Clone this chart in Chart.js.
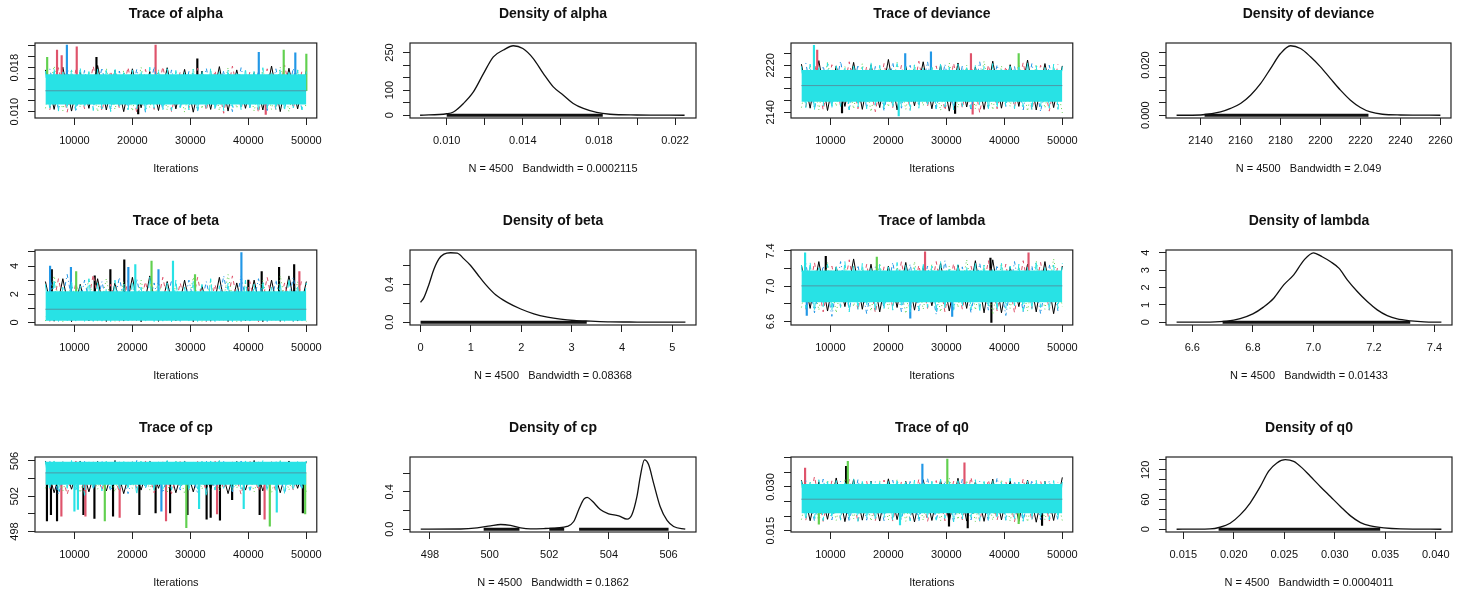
<!DOCTYPE html>
<html>
<head>
<meta charset="utf-8">
<script src="https://cdn.jsdelivr.net/npm/chart.js@4.4.1/dist/chart.umd.min.js"></script>
<style>
  html, body { margin: 0; padding: 0; background: #fff; }
  body { width: 1468px; height: 595px; position: relative; overflow: hidden; }
  canvas { position: absolute; }
</style>
</head>
<body>
<script>
// MCMC diagnostics: trace + density for alpha, deviance, beta, lambda, cp, q0

// iterations (offset grids so the chains don't all turn at the same x)
const ITER_A = [5000, 6500, 8000, 9500, 11000, 12500, 14000, 15500, 17000, 18500, 20000, 21500, 23000, 24500, 26000, 27500, 29000, 30500, 32000, 33500, 35000, 36500, 38000, 39500, 41000, 42500, 44000, 45500, 47000, 48500, 50000];
const ITER_B = [5750, 7250, 8750, 10250, 11750, 13250, 14750, 16250, 17750, 19250, 20750, 22250, 23750, 25250, 26750, 28250, 29750, 31250, 32750, 34250, 35750, 37250, 38750, 40250, 41750, 43250, 44750, 46250, 47750, 49250];
const ITER_C = [5000, 5750, 6500, 7250, 8000, 8750, 9500, 10250, 11000, 11750, 12500, 13250, 14000, 14750, 15500, 16250, 17000, 17750, 18500, 19250, 20000, 20750, 21500, 22250, 23000, 23750, 24500, 25250, 26000, 26750, 27500, 28250, 29000, 29750, 30500, 31250, 32000, 32750, 33500, 34250, 35000, 35750, 36500, 37250, 38000, 38750, 39500, 40250, 41000, 41750, 42500, 43250, 44000, 44750, 45500, 46250, 47000, 47750, 48500, 49250, 50000];
const ITER_TICKS = [10000, 20000, 30000, 40000, 50000];
const ITER_LABELS = ['10000', '20000', '30000', '40000', '50000'];

// ---- alpha ----
const alphaBlack = [0.0176, 0.0104, 0.0181, 0.0101, 0.0172, 0.0106, 0.0184, 0.0103, 0.0175, 0.0100, 0.0178, 0.0107, 0.0173, 0.0102, 0.0180, 0.0105, 0.0177, 0.0099, 0.0174, 0.0104, 0.0182, 0.0101, 0.0176, 0.0106, 0.0171, 0.0103, 0.0183, 0.0100, 0.0179, 0.0105, 0.0175];
const alphaRed = [0.0103, 0.0180, 0.0099, 0.0176, 0.0105, 0.0183, 0.0101, 0.0174, 0.0106, 0.0181, 0.0098, 0.0177, 0.0104, 0.0182, 0.0100, 0.0173, 0.0107, 0.0179, 0.0102, 0.0175, 0.0097, 0.0183, 0.0105, 0.0172, 0.0098, 0.0178, 0.0103, 0.0185, 0.0106, 0.0174];
const alphaGreen = [0.0106, 0.0183, 0.0102, 0.0177, 0.0108, 0.0173, 0.0100, 0.0179, 0.0104, 0.0175, 0.0101, 0.0181, 0.0107, 0.0176, 0.0103, 0.0172, 0.0099, 0.0178, 0.0105, 0.0174, 0.0102, 0.0180, 0.0106, 0.0173, 0.0101, 0.0177, 0.0104, 0.0181, 0.0100, 0.0176, 0.0105];
const alphaBlue = [0.0178, 0.0104, 0.0181, 0.0100, 0.0175, 0.0107, 0.0180, 0.0102, 0.0174, 0.0105, 0.0177, 0.0099, 0.0182, 0.0103, 0.0176, 0.0106, 0.0173, 0.0101, 0.0179, 0.0104, 0.0175, 0.0100, 0.0180, 0.0107, 0.0174, 0.0102, 0.0178, 0.0105, 0.0179, 0.0103];
const alphaCyan = [0.0174, 0.0104, 0.0178, 0.0101, 0.0172, 0.0106, 0.0176, 0.0103, 0.0180, 0.0108, 0.0173, 0.0102, 0.0177, 0.0105, 0.0175, 0.0100, 0.0179, 0.0107, 0.0171, 0.0103, 0.0176, 0.0105, 0.0174, 0.0101, 0.0181, 0.0106, 0.0173, 0.0104, 0.0178, 0.0102, 0.0175, 0.0107, 0.0172, 0.0103, 0.0177, 0.0100, 0.0174, 0.0106, 0.0179, 0.0104, 0.0173, 0.0102, 0.0176, 0.0108, 0.0171, 0.0103, 0.0178, 0.0105, 0.0175, 0.0101, 0.0180, 0.0106, 0.0172, 0.0104, 0.0177, 0.0102, 0.0174, 0.0107, 0.0176, 0.0103, 0.0173];
const alphaSpikeIter = [5300, 7000, 7800, 8700, 10400, 13800, 21000, 24000, 31200, 41800, 43000, 46100, 48100, 50000];
const alphaSpikeVal = [0.0199, 0.0212, 0.0202, 0.0221, 0.0218, 0.0199, 0.0096, 0.0221, 0.0196, 0.0208, 0.0095, 0.0212, 0.0207, 0.0205];
const alphaSpikeChain = [2, 1, 1, 3, 1, 0, 0, 1, 0, 3, 1, 2, 3, 2];
const alphaBand = [0.0113, 0.0168];
const alphaMean = 0.0138;
const alphaTraceTicks = [0.010, 0.012, 0.014, 0.016, 0.018, 0.020, 0.022];
const alphaTraceLabels = ['0.010', '', '', '', '0.018', '', ''];
const alphaDensX = [0.0086, 0.0100, 0.01035, 0.01088, 0.0114, 0.01193, 0.01245, 0.01298, 0.0135, 0.0140, 0.01455, 0.01508, 0.0156, 0.01613, 0.01665, 0.01718, 0.01788, 0.01858, 0.01998, 0.0225];
const alphaDensY = [0, 6, 13, 47, 93, 166, 233, 260, 277, 266, 226, 166, 113, 80, 47, 27, 11, 4, 1, 0];
const alphaRug = [[0.0100, 0.0182]];
const alphaDensTicksX = [0.010, 0.012, 0.014, 0.016, 0.018, 0.020, 0.022];
const alphaDensLabelsX = ['0.010', '', '0.014', '', '0.018', '', '0.022'];
const alphaDensTicksY = [0, 50, 100, 150, 200, 250];
const alphaDensLabelsY = ['0', '', '100', '', '', '250'];

// ---- deviance ----
const devBlack = [2222, 2147, 2228, 2143, 2219, 2150, 2225, 2145, 2221, 2148, 2230, 2144, 2218, 2151, 2226, 2146, 2220, 2142, 2224, 2149, 2217, 2145, 2227, 2147, 2221, 2150, 2229, 2144, 2223, 2148, 2219];
const devRed = [2149, 2224, 2144, 2221, 2151, 2226, 2146, 2218, 2141, 2223, 2148, 2220, 2145, 2227, 2150, 2219, 2143, 2224, 2147, 2223, 2139, 2221, 2146, 2218, 2149, 2225, 2144, 2220, 2142, 2222];
const devGreen = [2148, 2220, 2144, 2226, 2150, 2218, 2146, 2223, 2141, 2219, 2149, 2225, 2145, 2221, 2151, 2217, 2143, 2224, 2148, 2220, 2146, 2227, 2144, 2219, 2150, 2224, 2142, 2222, 2147, 2218, 2139];
const devBlue = [2224, 2146, 2219, 2150, 2227, 2144, 2221, 2148, 2218, 2142, 2225, 2147, 2220, 2151, 2226, 2145, 2222, 2149, 2219, 2143, 2226, 2146, 2221, 2150, 2218, 2144, 2223, 2141, 2220, 2147];
const devCyan = [2218, 2148, 2222, 2145, 2216, 2151, 2224, 2147, 2219, 2150, 2215, 2144, 2221, 2149, 2217, 2146, 2225, 2152, 2220, 2145, 2216, 2148, 2223, 2150, 2218, 2143, 2221, 2147, 2215, 2151, 2219, 2146, 2224, 2149, 2217, 2144, 2222, 2150, 2216, 2147, 2220, 2152, 2218, 2145, 2223, 2148, 2215, 2151, 2221, 2146, 2217, 2149, 2225, 2144, 2219, 2150, 2216, 2147, 2222, 2145, 2218];
const devSpikeIter = [7160, 7720, 22900, 27340, 34240, 42470, 21780, 34530, 31500, 12000];
const devSpikeVal = [2254, 2246, 2240, 2243, 2240, 2240, 2134, 2137, 2138, 2139];
const devSpikeChain = [4, 1, 3, 3, 1, 2, 4, 1, 0, 0];
const devBand = [2158, 2212];
const devMean = 2185.5;
const devTraceTicks = [2140, 2160, 2180, 2200, 2220, 2240];
const devTraceLabels = ['2140', '', '', '', '2220', ''];
const devDensX = [2128, 2140, 2150, 2155, 2160, 2165, 2170, 2175, 2180, 2185, 2190, 2195, 2200, 2205, 2210, 2215, 2220, 2225, 2231, 2240, 2260];
const devDensY = [0, 0.0001, 0.0013, 0.0027, 0.0047, 0.0080, 0.0126, 0.0186, 0.0246, 0.0277, 0.0266, 0.0233, 0.0193, 0.0146, 0.0100, 0.0060, 0.0031, 0.0013, 0.0004, 0.0001, 0];
const devRug = [[2142, 2224]];
const devDensTicksX = [2140, 2160, 2180, 2200, 2220, 2240, 2260];
const devDensLabelsX = ['2140', '2160', '2180', '2200', '2220', '2240', '2260'];
const devDensTicksY = [0, 0.005, 0.010, 0.015, 0.020, 0.025];
const devDensLabelsY = ['0.000', '', '', '', '0.020', ''];

// ---- beta ----
const betaBlack = [2.9, 0.08, 3.1, 0.05, 2.7, 0.10, 3.1, 0.06, 2.8, 0.09, 3.2, 0.04, 3.3, 0.07, 2.9, 0.11, 3.0, 0.05, 2.6, 0.08, 3.2, 0.06, 2.8, 0.10, 3.0, 0.05, 3.0, 0.07, 3.3, 0.09, 2.9];
const betaRed = [0.06, 3.1, 0.09, 2.8, 0.05, 3.4, 0.11, 2.7, 0.07, 3.0, 0.04, 2.9, 0.10, 3.2, 0.06, 2.8, 0.08, 3.2, 0.05, 2.7, 0.09, 3.3, 0.07, 2.9, 0.04, 3.2, 0.10, 2.8, 0.06, 3.1];
const betaGreen = [0.09, 3.3, 0.06, 2.8, 0.11, 3.1, 0.05, 3.1, 0.08, 2.9, 0.07, 3.0, 0.10, 3.0, 0.04, 2.7, 0.09, 3.2, 0.06, 2.9, 0.11, 3.4, 0.05, 2.8, 0.08, 3.0, 0.07, 3.3, 0.10, 2.9, 0.06];
const betaBlue = [3.2, 0.07, 3.4, 0.05, 3.0, 0.10, 2.9, 0.06, 3.2, 0.08, 3.1, 0.04, 2.8, 0.09, 3.0, 0.06, 3.0, 0.11, 2.9, 0.05, 3.3, 0.07, 3.3, 0.09, 3.1, 0.06, 3.0, 0.10, 3.2, 0.05];
const betaCyan = [2.7, 0.06, 3.0, 0.08, 2.5, 0.05, 2.9, 0.09, 2.6, 0.07, 3.1, 0.04, 2.8, 0.08, 2.4, 0.06, 3.0, 0.10, 2.7, 0.05, 2.9, 0.07, 2.5, 0.09, 3.2, 0.06, 2.6, 0.08, 2.8, 0.04, 3.0, 0.07, 2.5, 0.09, 2.9, 0.05, 2.7, 0.08, 3.1, 0.06, 2.6, 0.10, 2.8, 0.05, 2.4, 0.07, 3.0, 0.09, 2.7, 0.06, 2.9, 0.08, 2.5, 0.04, 2.8, 0.07, 3.1, 0.06, 2.6, 0.09, 2.8];
const betaSpikeIter = [5800, 6100, 9400, 10300, 13500, 16200, 18600, 19300, 20500, 23300, 24500, 27000, 30800, 38800, 40000, 42300, 45300, 47900, 48800];
const betaSpikeVal = [4.0, 3.75, 3.9, 3.6, 3.3, 3.75, 4.45, 3.9, 4.1, 4.35, 3.75, 4.35, 3.4, 4.95, 3.0, 3.6, 3.9, 4.1, 3.6];
const betaSpikeChain = [3, 0, 3, 2, 0, 0, 0, 3, 4, 2, 3, 4, 2, 3, 0, 0, 0, 0, 1];
const betaBand = [0.12, 2.2];
const betaMean = 0.93;
const betaTraceTicks = [0, 1, 2, 3, 4, 5];
const betaTraceLabels = ['0', '', '2', '', '4', ''];
const betaDensX = [0, 0.066, 0.166, 0.265, 0.364, 0.464, 0.596, 0.728, 0.861, 0.993, 1.126, 1.29, 1.49, 1.72, 1.99, 2.25, 2.52, 2.78, 3.05, 3.38, 3.77, 4.30, 5.26];
const betaDensY = [0.21, 0.26, 0.40, 0.56, 0.67, 0.72, 0.735, 0.73, 0.67, 0.60, 0.51, 0.40, 0.29, 0.21, 0.14, 0.089, 0.054, 0.032, 0.018, 0.011, 0.004, 0.002, 0];
const betaRug = [[0.0, 3.3]];
const betaDensTicksX = [0, 1, 2, 3, 4, 5];
const betaDensLabelsX = ['0', '1', '2', '3', '4', '5'];
const betaDensTicksY = [0, 0.2, 0.4, 0.6];
const betaDensLabelsY = ['0.0', '', '0.4', ''];

// ---- lambda ----
const lamBlack = [7.24, 6.75, 7.28, 6.72, 7.22, 6.77, 7.31, 6.74, 7.25, 6.71, 7.23, 6.76, 7.27, 6.73, 7.21, 6.78, 7.26, 6.72, 7.24, 6.75, 7.29, 6.70, 7.30, 6.70, 7.22, 6.77, 7.25, 6.71, 7.28, 6.69, 7.23];
const lamRed = [6.74, 7.27, 6.71, 7.23, 6.77, 7.30, 6.73, 7.25, 6.70, 7.22, 6.76, 7.28, 6.72, 7.24, 6.75, 7.28, 6.71, 7.26, 6.74, 7.23, 6.77, 7.29, 6.72, 7.25, 6.70, 7.29, 6.75, 7.27, 6.73, 7.24];
const lamGreen = [6.76, 7.23, 6.73, 7.27, 6.70, 7.24, 6.77, 7.21, 6.72, 7.26, 6.75, 7.22, 6.69, 7.28, 6.74, 7.25, 6.71, 7.23, 6.76, 7.30, 6.73, 7.24, 6.68, 7.26, 6.75, 7.22, 6.72, 7.29, 6.74, 7.31, 6.77];
const lamBlue = [7.26, 6.70, 7.23, 6.66, 7.28, 6.73, 7.24, 6.69, 7.22, 6.75, 7.27, 6.71, 7.25, 6.72, 7.23, 6.68, 7.29, 6.74, 7.22, 6.70, 7.26, 6.73, 7.24, 6.67, 7.28, 6.71, 7.23, 6.69, 7.25, 6.72];
const lamCyan = [7.24, 6.75, 7.27, 6.72, 7.21, 6.77, 7.25, 6.73, 7.22, 6.76, 7.28, 6.71, 7.23, 6.74, 7.26, 6.78, 7.20, 6.72, 7.25, 6.75, 7.22, 6.73, 7.27, 6.77, 7.24, 6.71, 7.21, 6.74, 7.26, 6.76, 7.23, 6.72, 7.28, 6.75, 7.21, 6.73, 7.25, 6.77, 7.22, 6.74, 7.27, 6.71, 7.24, 6.76, 7.20, 6.73, 7.26, 6.75, 7.23, 6.78, 7.25, 6.72, 7.22, 6.74, 7.28, 6.76, 7.21, 6.73, 7.24, 6.75, 7.26];
const lamSpikeIter = [5630, 9200, 26320, 44170, 37600, 37760, 23770, 5920, 18000, 31000];
const lamSpikeVal = [7.38, 7.34, 7.39, 7.38, 7.32, 6.59, 6.64, 6.67, 7.33, 6.66];
const lamSpikeChain = [4, 0, 1, 1, 0, 0, 3, 3, 2, 3];
const lamBand = [6.82, 7.18];
const lamMean = 7.005;
const lamTraceTicks = [6.6, 6.8, 7.0, 7.2, 7.4];
const lamTraceLabels = ['6.6', '', '7.0', '', '7.4'];
const lamDensX = [6.548, 6.659, 6.714, 6.758, 6.800, 6.835, 6.869, 6.902, 6.935, 6.969, 7.000, 7.029, 7.057, 7.085, 7.112, 7.145, 7.178, 7.211, 7.244, 7.277, 7.322, 7.366, 7.423];
const lamDensY = [0, 0.01, 0.06, 0.21, 0.48, 0.87, 1.38, 2.15, 2.73, 3.58, 4.0, 3.77, 3.48, 3.10, 2.44, 1.77, 1.19, 0.71, 0.38, 0.19, 0.08, 0.02, 0];
const lamRug = [[6.70, 7.32]];
const lamDensTicksX = [6.6, 6.8, 7.0, 7.2, 7.4];
const lamDensLabelsX = ['6.6', '6.8', '7.0', '7.2', '7.4'];
const lamDensTicksY = [0, 1, 2, 3, 4];
const lamDensLabelsY = ['0', '1', '2', '3', '4'];

// ---- cp ----
const cpBlack = [506.0, 502.4, 505.9, 502.8, 506.0, 502.5, 505.95, 502.6, 506.05, 502.3, 505.9, 502.7, 506.0, 502.9, 505.95, 502.4, 506.0, 502.5, 505.9, 502.8, 506.0, 502.3, 505.95, 502.7, 506.05, 502.6, 505.9, 502.4, 506.0, 502.9, 505.95];
const cpRed = [502.8, 505.95, 502.2, 506.0, 502.5, 505.9, 502.7, 506.05, 502.4, 505.95, 502.9, 506.0, 502.4, 505.9, 502.3, 506.0, 502.7, 505.95, 502.5, 506.0, 502.8, 505.9, 502.2, 506.05, 502.6, 505.95, 502.5, 506.0, 502.7, 505.9];
const cpGreen = [502.9, 506.0, 502.6, 505.9, 502.4, 505.95, 502.8, 506.0, 502.5, 505.9, 502.9, 506.05, 502.7, 505.95, 502.4, 506.0, 502.3, 505.9, 502.8, 506.0, 502.6, 505.95, 502.9, 506.0, 502.5, 505.9, 502.4, 506.05, 502.7, 505.95, 502.5];
const cpBlue = [506.0, 502.2, 505.9, 502.7, 505.95, 502.8, 506.0, 502.6, 505.9, 502.3, 506.05, 502.9, 505.95, 502.4, 506.0, 502.7, 505.9, 502.3, 506.0, 502.8, 505.95, 502.5, 506.0, 502.6, 505.9, 502.9, 506.05, 502.4, 505.95, 502.7];
const cpCyan = [505.95, 502.8, 506.0, 502.6, 505.9, 502.9, 506.05, 502.7, 505.95, 502.1, 506.0, 502.8, 505.9, 502.6, 505.95, 502.9, 506.0, 502.7, 506.05, 502.8, 505.9, 502.2, 505.95, 502.9, 506.0, 502.6, 505.9, 502.8, 506.05, 502.7, 505.95, 502.9, 506.0, 502.6, 505.9, 502.8, 505.95, 502.0, 506.0, 502.7, 506.05, 502.9, 505.9, 502.6, 505.95, 502.8, 506.0, 502.7, 505.9, 502.9, 506.05, 502.6, 505.95, 502.8, 506.0, 502.3, 505.9, 502.7, 505.95, 502.9, 506.0];
const cpSpikeIter = [5260, 5950, 7000, 7750, 10000, 10600, 11550, 11900, 13450, 15240, 16660, 17800, 21200, 24000, 25000, 25800, 26500, 29300, 29500, 31500, 32800, 33500, 34600, 35100, 37200, 39200, 41950, 42800, 43700, 44900, 49400, 49800];
const cpSpikeVal = [499.2, 499.9, 499.2, 499.75, 500.3, 500.5, 499.9, 499.75, 499.5, 499.2, 499.75, 499.6, 499.9, 500.1, 500.3, 499.2, 500.1, 498.45, 499.9, 500.6, 499.4, 499.6, 500.0, 499.3, 501.6, 500.6, 499.9, 499.4, 498.6, 500.2, 500.1, 500.0];
const cpSpikeChain = [0, 0, 0, 1, 4, 4, 0, 1, 0, 2, 0, 1, 0, 0, 3, 1, 0, 2, 0, 4, 0, 0, 1, 0, 0, 4, 0, 1, 2, 4, 0, 2];
const cpBand = [503.3, 505.9];
const cpMean = 504.65;
const cpTraceTicks = [498, 500, 502, 504, 506];
const cpTraceLabels = ['498', '', '502', '', '506'];
const cpDensX = [497.69, 499.03, 499.58, 500.03, 500.37, 500.70, 501.04, 501.37, 501.82, 502.26, 502.60, 502.82, 502.99, 503.16, 503.27, 503.44, 503.71, 503.99, 504.33, 504.61, 504.77, 504.94, 505.05, 505.19, 505.33, 505.50, 505.72, 505.95, 506.17, 506.56];
const cpDensY = [0, 0.002, 0.014, 0.036, 0.05, 0.04, 0.014, 0.004, 0.007, 0.014, 0.029, 0.082, 0.21, 0.32, 0.34, 0.30, 0.21, 0.164, 0.143, 0.107, 0.154, 0.35, 0.56, 0.74, 0.69, 0.49, 0.24, 0.093, 0.029, 0];
const cpRug = [[499.8, 501.0], [502.0, 502.5], [503.0, 506.0]];
const cpDensTicksX = [498, 500, 502, 504, 506];
const cpDensLabelsX = ['498', '500', '502', '504', '506'];
const cpDensTicksY = [0, 0.2, 0.4, 0.6];
const cpDensLabelsY = ['0.0', '', '0.4', ''];

// ---- q0 ----
const q0Black = [0.0323, 0.0184, 0.0318, 0.0189, 0.0331, 0.0181, 0.0326, 0.0186, 0.0320, 0.0183, 0.0328, 0.0188, 0.0319, 0.0180, 0.0325, 0.0185, 0.0322, 0.0180, 0.0330, 0.0183, 0.0317, 0.0182, 0.0327, 0.0187, 0.0321, 0.0182, 0.0324, 0.0179, 0.0319, 0.0185, 0.0333];
const q0Red = [0.0186, 0.0336, 0.0182, 0.0321, 0.0189, 0.0326, 0.0180, 0.0319, 0.0185, 0.0324, 0.0183, 0.0318, 0.0188, 0.0327, 0.0181, 0.0322, 0.0184, 0.0320, 0.0187, 0.0334, 0.0182, 0.0325, 0.0186, 0.0319, 0.0181, 0.0328, 0.0185, 0.0321, 0.0183, 0.0317];
const q0Green = [0.0188, 0.0319, 0.0181, 0.0324, 0.0185, 0.0329, 0.0190, 0.0318, 0.0183, 0.0321, 0.0187, 0.0326, 0.0182, 0.0320, 0.0186, 0.0317, 0.0184, 0.0331, 0.0188, 0.0323, 0.0181, 0.0319, 0.0186, 0.0325, 0.0183, 0.0318, 0.0180, 0.0322, 0.0187, 0.0320, 0.0184];
const q0Blue = [0.0322, 0.0183, 0.0327, 0.0187, 0.0320, 0.0181, 0.0325, 0.0186, 0.0318, 0.0184, 0.0323, 0.0189, 0.0319, 0.0182, 0.0330, 0.0185, 0.0321, 0.0180, 0.0326, 0.0187, 0.0320, 0.0183, 0.0331, 0.0186, 0.0319, 0.0182, 0.0324, 0.0188, 0.0321, 0.0184];
const q0Cyan = [0.0320, 0.0188, 0.0316, 0.0192, 0.0325, 0.0184, 0.0318, 0.0195, 0.0322, 0.0186, 0.0315, 0.0190, 0.0328, 0.0182, 0.0319, 0.0193, 0.0323, 0.0187, 0.0316, 0.0196, 0.0321, 0.0185, 0.0326, 0.0191, 0.0317, 0.0183, 0.0324, 0.0189, 0.0314, 0.0194, 0.0320, 0.0186, 0.0327, 0.0192, 0.0318, 0.0181, 0.0322, 0.0190, 0.0315, 0.0195, 0.0325, 0.0184, 0.0319, 0.0188, 0.0323, 0.0193, 0.0316, 0.0186, 0.0330, 0.0191, 0.0317, 0.0183, 0.0321, 0.0189, 0.0324, 0.0194, 0.0318, 0.0187, 0.0322, 0.0192, 0.0319];
const q0SpikeIter = [13000, 30160, 33120, 25860, 5630, 12700, 30450, 33680, 42470, 22000, 46500, 8000];
const q0SpikeVal = [0.0388, 0.0396, 0.0383, 0.0379, 0.0365, 0.0371, 0.0165, 0.0159, 0.0174, 0.0170, 0.0168, 0.0172];
const q0SpikeChain = [2, 2, 1, 3, 1, 0, 0, 0, 2, 4, 0, 2];
const q0Band = [0.0210, 0.0310];
const q0Mean = 0.0258;
const q0TraceTicks = [0.015, 0.020, 0.025, 0.030, 0.035, 0.040];
const q0TraceLabels = ['0.015', '', '', '0.030', '', ''];
const q0DensX = [0.01434, 0.01765, 0.01864, 0.01964, 0.02063, 0.02162, 0.02262, 0.02344, 0.02427, 0.0251, 0.02593, 0.02676, 0.02758, 0.02858, 0.02957, 0.03056, 0.03156, 0.03255, 0.03354, 0.03487, 0.03652, 0.04056];
const q0DensY = [0, 0.7, 4, 12, 29, 53, 86, 117, 134, 140.5, 137, 124, 107, 86, 66, 46, 27, 13.5, 6.8, 2.7, 0.7, 0];
const q0Rug = [[0.0185, 0.0345]];
const q0DensTicksX = [0.015, 0.020, 0.025, 0.030, 0.035, 0.040];
const q0DensLabelsX = ['0.015', '0.020', '0.025', '0.030', '0.035', '0.040'];
const q0DensTicksY = [0, 20, 40, 60, 80, 100, 120, 140];
const q0DensLabelsY = ['0', '', '', '60', '', '', '120', ''];

// ---- layout (page pixels of each plot box) ----
const COLS = [35, 410, 791, 1166];
const ROWS = [43, 250, 457];
const BOX_W = 286, BOX_H = 75;
const AXIS_W = 40, TOP_PAD = 43, BOTTOM_H = 62, RIGHT_PAD = 10;

const CHAIN_COLORS = ['#000000', '#DF536B', '#61D04F', '#2297E6', '#28E2E5'];
const CHAIN_DASH = [[], [4, 4], [1, 3], [1, 3, 4, 3], [7, 3]];
const TEXT = '#111';
const FONT = "'Liberation Sans', Arial, Helvetica, sans-serif";

Chart.defaults.font.family = FONT;
Chart.defaults.color = TEXT;

const pts = (xs, ys) => xs.map((x, i) => ({ x: x, y: ys[i] }));
const rugPts = segs => segs.flatMap(s => [{ x: s[0], y: 0 }, { x: s[1], y: 0 }, { x: s[1], y: null }]);

// box, title and the rotated y labels (R style)
const panelDecor = {
    id: 'panelDecor',
    afterDraw(chart, args, opts) {
        const ctx = chart.ctx;
        const ca = chart.chartArea;
        const ys = chart.scales.y;
        ctx.save();
        ctx.strokeStyle = '#222';
        ctx.lineWidth = 1.2;
        ctx.strokeRect(ca.left, ca.top, ca.right - ca.left, ca.bottom - ca.top);

        ctx.fillStyle = TEXT;
        ctx.textAlign = 'center';
        ctx.textBaseline = 'middle';
        ctx.font = 'bold 14px ' + FONT;
        ctx.fillText(opts.title, (ca.left + ca.right) / 2, ca.top - 29);

        ctx.font = '11px ' + FONT;
        opts.yTicks.forEach((v, i) => {
            const lab = opts.yLabels[i];
            if (!lab) return;
            ctx.save();
            ctx.translate(ca.left - 20, ys.getPixelForValue(v));
            ctx.rotate(-Math.PI / 2);
            ctx.fillText(lab, 0, 0);
            ctx.restore();
        });
        ctx.restore();
    }
};

function xScale(range, ticks, labels, title) {
    return {
        type: 'linear',
        min: range[0],
        max: range[1],
        offset: false,
        afterBuildTicks: s => { s.ticks = ticks.map(v => ({ value: v })); },
        afterFit: s => { s.height = BOTTOM_H; },
        ticks: {
            autoSkip: false, maxRotation: 0, minRotation: 0, padding: 9,
            font: { size: 11 }, color: TEXT,
            callback: (v, i) => labels[i]
        },
        grid: { offset: false, drawOnChartArea: false, drawTicks: true, tickLength: 7, color: '#222', lineWidth: 1 },
        border: { display: false },
        title: { display: true, text: title, font: { size: 11 }, color: TEXT, padding: { top: 4, bottom: 4 } }
    };
}

function yScale(range, ticks) {
    return {
        type: 'linear',
        min: range[0],
        max: range[1],
        afterBuildTicks: s => { s.ticks = ticks.map(v => ({ value: v })); },
        afterFit: s => { s.width = AXIS_W; },
        ticks: { display: false },
        grid: { drawOnChartArea: false, drawTicks: true, tickLength: 7, color: '#222', lineWidth: 1 },
        border: { display: false }
    };
}

function addPanel(col, row, title, datasets, xs, ys, yTicks, yLabels) {
    const c = document.createElement('canvas');
    c.width = AXIS_W + BOX_W + RIGHT_PAD;
    c.height = TOP_PAD + BOX_H + BOTTOM_H;
    c.style.left = (COLS[col] - AXIS_W) + 'px';
    c.style.top = (ROWS[row] - TOP_PAD) + 'px';
    c.style.width = c.width + 'px';
    c.style.height = c.height + 'px';
    document.body.appendChild(c);

    new Chart(c.getContext('2d'), {
        type: 'line',
        data: { datasets: datasets },
        options: {
            responsive: false,
            animation: false,
            events: [],
            layout: { padding: { top: TOP_PAD, right: RIGHT_PAD, left: 0, bottom: 0 } },
            elements: { point: { radius: 0 } },
            plugins: {
                legend: { display: false },
                tooltip: { enabled: false },
                panelDecor: { title: title, yTicks: yTicks, yLabels: yLabels }
            },
            scales: { x: xs, y: ys }
        },
        plugins: [panelDecor]
    });
}

function tracePanel(col, row, name, chains, spikes, band, mean, yRange, yTicks, yLabels) {
    const iters = [ITER_A, ITER_B, ITER_A, ITER_B, ITER_C];
    const chainSet = k => ({
        data: pts(iters[k], chains[k]),
        borderColor: CHAIN_COLORS[k],
        borderWidth: 1,
        borderDash: CHAIN_DASH[k],
        fill: false
    });
    // single excursions drawn as thin vertical strokes from the chain centre
    const spikeSet = k => ({
        type: 'bar',
        data: spikes[0].map((x, i) => spikes[2][i] === k ? { x: x, y: [mean, spikes[1][i]] } : null).filter(Boolean),
        backgroundColor: CHAIN_COLORS[k],
        borderWidth: 0,
        barThickness: 1.5,
        grouped: false
    });
    // first dataset is drawn on top
    const datasets = [
        { data: [{ x: 5000, y: mean }, { x: 50000, y: mean }], borderColor: '#4e98a6', borderWidth: 1, fill: false },
        chainSet(4),
        { data: [{ x: 5000, y: band[1] }, { x: 50000, y: band[1] }], borderWidth: 0, borderColor: CHAIN_COLORS[4],
          backgroundColor: CHAIN_COLORS[4], fill: { value: band[0] } },
        spikeSet(4),
        chainSet(3),
        spikeSet(3),
        chainSet(2),
        spikeSet(2),
        chainSet(1),
        spikeSet(1),
        chainSet(0),
        spikeSet(0)
    ];
    addPanel(col, row, 'Trace of ' + name, datasets,
        xScale([3200, 51800], ITER_TICKS, ITER_LABELS, 'Iterations'),
        yScale(yRange, yTicks), yTicks, yLabels);
}

function densityPanel(col, row, name, dx, dy, rug, bw, xRange, xTicks, xLabels, yRange, yTicks, yLabels) {
    const datasets = [
        { data: pts(dx, dy), borderColor: '#111', borderWidth: 1.3, cubicInterpolationMode: 'monotone', fill: false },
        { data: rugPts(rug), borderColor: '#111', borderWidth: 3, spanGaps: false, fill: false }
    ];
    addPanel(col, row, 'Density of ' + name, datasets,
        xScale(xRange, xTicks, xLabels, 'N = 4500   Bandwidth = ' + bw),
        yScale(yRange, yTicks), yTicks, yLabels);
}

tracePanel(0, 0, 'alpha', [alphaBlack, alphaRed, alphaGreen, alphaBlue, alphaCyan],
    [alphaSpikeIter, alphaSpikeVal, alphaSpikeChain], alphaBand, alphaMean,
    [0.00884, 0.0225], alphaTraceTicks, alphaTraceLabels);
densityPanel(1, 0, 'alpha', alphaDensX, alphaDensY, alphaRug, '0.0002115',
    [0.00807, 0.0231], alphaDensTicksX, alphaDensLabelsX, [-11, 288], alphaDensTicksY, alphaDensLabelsY);
tracePanel(2, 0, 'deviance', [devBlack, devRed, devGreen, devBlue, devCyan],
    [devSpikeIter, devSpikeVal, devSpikeChain], devBand, devMean,
    [2130.3, 2258], devTraceTicks, devTraceLabels);
densityPanel(3, 0, 'deviance', devDensX, devDensY, devRug, '2.049',
    [2122.7, 2265.3], devDensTicksX, devDensLabelsX, [-0.0011, 0.0288], devDensTicksY, devDensLabelsY);

tracePanel(0, 1, 'beta', [betaBlack, betaRed, betaGreen, betaBlue, betaCyan],
    [betaSpikeIter, betaSpikeVal, betaSpikeChain], betaBand, betaMean,
    [-0.19, 5.14], betaTraceTicks, betaTraceLabels);
densityPanel(1, 1, 'beta', betaDensX, betaDensY, betaRug, '0.08368',
    [-0.21, 5.47], betaDensTicksX, betaDensLabelsX, [-0.0294, 0.764], betaDensTicksY, betaDensLabelsY);
tracePanel(2, 1, 'lambda', [lamBlack, lamRed, lamGreen, lamBlue, lamCyan],
    [lamSpikeIter, lamSpikeVal, lamSpikeChain], lamBand, lamMean,
    [6.562, 7.411], lamTraceTicks, lamTraceLabels);
densityPanel(3, 1, 'lambda', lamDensX, lamDensY, lamRug, '0.01433',
    [6.513, 7.458], lamDensTicksX, lamDensLabelsX, [-0.16, 4.16], lamDensTicksY, lamDensLabelsY);

tracePanel(0, 2, 'cp', [cpBlack, cpRed, cpGreen, cpBlue, cpCyan],
    [cpSpikeIter, cpSpikeVal, cpSpikeChain], cpBand, cpMean,
    [497.95, 506.45], cpTraceTicks, cpTraceLabels);
densityPanel(1, 2, 'cp', cpDensX, cpDensY, cpRug, '0.1862',
    [497.33, 506.92], cpDensTicksX, cpDensLabelsX, [-0.03, 0.771], cpDensTicksY, cpDensLabelsY);
tracePanel(2, 2, 'q0', [q0Black, q0Red, q0Green, q0Blue, q0Cyan],
    [q0SpikeIter, q0SpikeVal, q0SpikeChain], q0Band, q0Mean,
    [0.01454, 0.0403], q0TraceTicks, q0TraceLabels);
densityPanel(3, 2, 'q0', q0DensX, q0DensY, q0Rug, '0.0004011',
    [0.01329, 0.04161], q0DensTicksX, q0DensLabelsX, [-5.6, 146], q0DensTicksY, q0DensLabelsY);
</script>
</body>
</html>
